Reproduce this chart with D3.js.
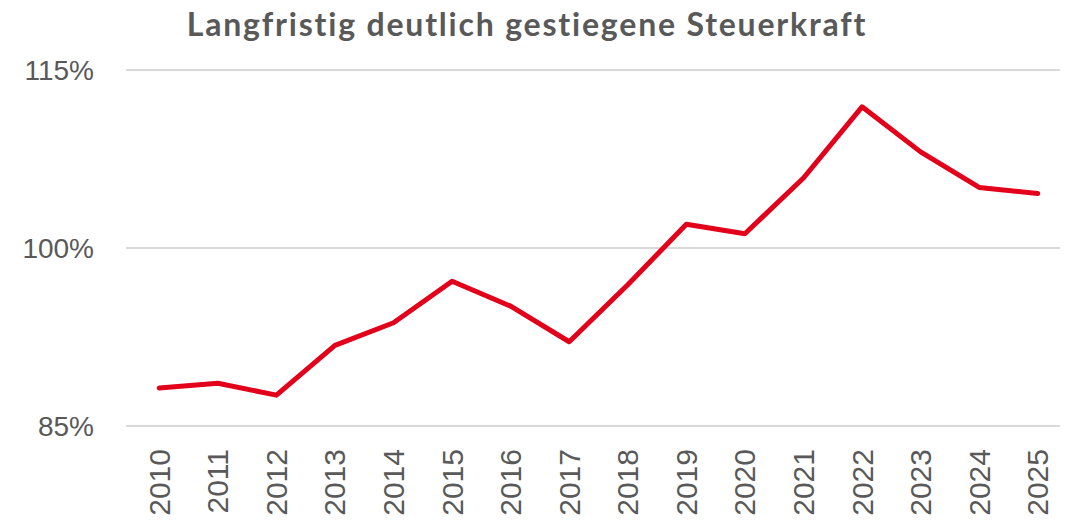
<!DOCTYPE html>
<html>
<head>
<meta charset="utf-8">
<script src="https://cdn.jsdelivr.net/npm/d3@7"></script>
<style>
  body { margin: 0; background: #fff; }
  svg { display: block; }
</style>
</head>
<body>
<div id="wrapper"></div>
<script>
const years = ["2010", "2011", "2012", "2013", "2014", "2015", "2016", "2017",
               "2018", "2019", "2020", "2021", "2022", "2023", "2024", "2025"];
const steuerkraft = [88.2, 88.6, 87.6, 91.8, 93.7, 97.2, 95.1, 92.1,
                     96.9, 102.0, 101.2, 105.9, 111.9, 108.1, 105.1, 104.6];
const yTicks = [85, 100, 115];
const title = "Langfristig deutlich gestiegene Steuerkraft";

function buildPlot() {
    const dim = { width: 1071, height: 523 };

    const svg = d3.select("#wrapper").append("svg")
        .attr("width", dim.width)
        .attr("height", dim.height);

    const xScale = d3.scaleBand()
        .domain(years)
        .range([130, 1067]);

    const yScale = d3.scaleLinear()
        .domain([85, 115])
        .range([426, 70]);

    // gridlines
    svg.append("g")
        .selectAll("line")
        .data(yTicks)
        .join("line")
        .attr("x1", 126)
        .attr("x2", 1060)
        .attr("y1", d => yScale(d))
        .attr("y2", d => yScale(d))
        .attr("stroke", "#d9d9d9")
        .attr("stroke-width", 2);

    // y labels
    svg.append("g")
        .selectAll("text")
        .data(yTicks)
        .join("text")
        .attr("x", 94)
        .attr("y", d => yScale(d))
        .attr("dy", "0.35em")
        .attr("text-anchor", "end")
        .attr("font-family", "Liberation Sans, Arial, sans-serif")
        .attr("font-size", 28)
        .attr("fill", "#595959")
        .text(d => d + "%");

    // x labels (rotated)
    svg.append("g")
        .selectAll("text")
        .data(years)
        .join("text")
        .attr("transform", d => `translate(${xScale(d) + xScale.bandwidth() / 2},449) rotate(-90)`)
        .attr("dy", "0.35em")
        .attr("text-anchor", "end")
        .attr("font-family", "Liberation Sans, Arial, sans-serif")
        .attr("font-size", 30)
        .attr("fill", "#595959")
        .text(d => d);

    const line = d3.line()
        .x((d, i) => xScale(years[i]) + xScale.bandwidth() / 2)
        .y(d => yScale(d));

    svg.append("path")
        .attr("fill", "none")
        .attr("stroke", "#e2001a")
        .attr("stroke-width", 5)
        .attr("stroke-linejoin", "round")
        .attr("stroke-linecap", "round")
        .attr("d", line(steuerkraft));

    svg.append("text")
        .attr("x", 527)
        .attr("y", 36)
        .attr("text-anchor", "middle")
        .attr("font-family", "Lato, sans-serif")
        .attr("font-weight", "bold")
        .attr("font-size", 32)
        .attr("letter-spacing", 1.8)
        .attr("fill", "#595959")
        .text(title);
}

buildPlot();
</script>
</body>
</html>
